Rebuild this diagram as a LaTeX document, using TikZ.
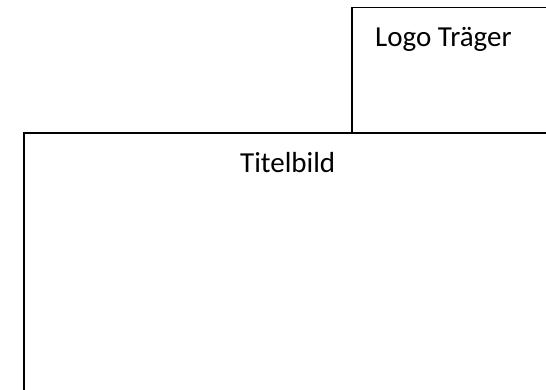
\documentclass[tikz,border=0pt]{standalone}
\usepackage{fontspec}
\setmainfont{Carlito}
\begin{document}
\begin{tikzpicture}[x=1pt,y=-1pt,
  frame/.style={draw=black,line width=1.5pt},
  label/.style={anchor=base west,inner sep=0pt,font=\fontsize{29}{34}\selectfont}]
\useasboundingbox (0,0) rectangle (546,389);
\clip (0,0) rectangle (546,389);
\draw[frame] (352,7.5) rectangle (560,133);
\draw[frame,fill=white] (24,133) rectangle (560,400);
\node[label] (logo) at (375,46.7) {Logo Träger};
\node[label] (titel) at (240,172.3) {Titelbild};
\end{tikzpicture}
\end{document}
